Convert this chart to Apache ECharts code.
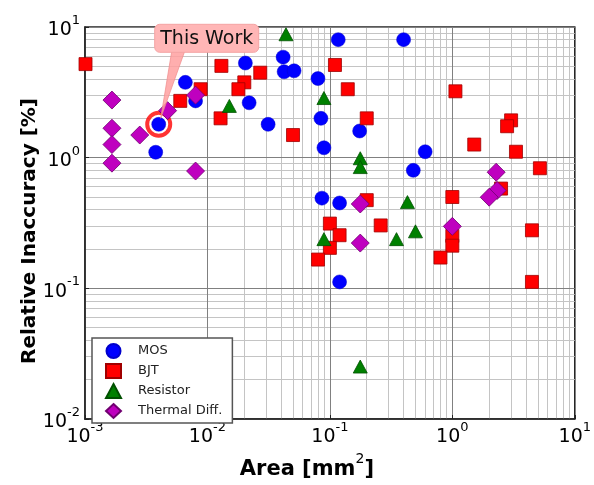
<!DOCTYPE html>
<html><head><meta charset="utf-8">
<script src="https://cdn.jsdelivr.net/npm/echarts@6/dist/echarts.min.js"></script>
<style>html,body{margin:0;padding:0;background:#fff}#c{width:594px;height:485px}</style>
</head><body><div id="c"></div>
<script>
// ---- data (area mm^2, relative inaccuracy %) ----
const mosData = [
  [0.0040, 1.80], [0.00378, 1.10], [0.0066, 3.77], [0.0080, 2.72],
  [0.0204, 5.30], [0.0219, 2.63], [0.0313, 1.80], [0.0415, 5.88],
  [0.0423, 4.54], [0.0510, 4.62], [0.0799, 4.03], [0.0845, 2.00],
  [0.0894, 1.19], [0.117, 8.0], [0.40, 8.0], [0.175, 1.60],
  [0.60, 1.11], [0.48, 0.80], [0.0861, 0.49], [0.12, 0.45], [0.12, 0.112]
];
const bjtData = [
  [0.00101, 5.2], [0.0060, 2.72], [0.0088, 3.34], [0.0130, 5.04],
  [0.0270, 4.47], [0.0200, 3.77], [0.0179, 3.34], [0.0128, 2.00],
  [0.050, 1.49], [0.110, 5.12], [0.140, 3.34], [0.20, 2.00],
  [1.06, 3.22], [0.20, 0.473], [0.10, 0.313], [0.12, 0.255],
  [0.10, 0.204], [0.080, 0.166], [0.26, 0.303], [1.0, 0.50],
  [1.0, 0.252], [1.0, 0.212], [0.80, 0.172], [3.02, 1.93],
  [2.80, 1.74], [1.51, 1.26], [3.31, 1.11], [5.19, 0.83],
  [2.50, 0.58], [4.47, 0.278], [4.47, 0.112]
];
const resistorData = [
  [0.0438, 8.8], [0.0151, 2.49], [0.0894, 2.86], [0.177, 0.99],
  [0.177, 0.847], [0.0894, 0.238], [0.43, 0.457], [0.35, 0.238],
  [0.50, 0.273], [0.177, 0.0252]
];
const thermalData = [
  [0.00166, 2.76], [0.00166, 1.68], [0.00166, 1.26], [0.00166, 0.908],
  [0.0028, 1.49], [0.00473, 2.29], [0.0080, 3.01], [0.0080, 0.79],
  [0.177, 0.442], [0.177, 0.222], [1.0, 0.298], [2.28, 0.774],
  [2.32, 0.561], [2.0, 0.498]
];
const thisWork = [[0.0040, 1.80]];
const calloutText = 'This Work';
const xMin = 0.001, xMax = 10, yMin = 0.01, yMax = 10;
const xMinorTicks = [];
for (let d = -3; d <= 0; d++) for (let k = 2; k <= 9; k++) xMinorTicks.push(+(k * Math.pow(10, d)).toPrecision(3));
const yMinorTicks = [];
for (let d = -2; d <= 0; d++) for (let k = 2; k <= 9; k++) yMinorTicks.push(+(k * Math.pow(10, d)).toPrecision(3));

const FONT = 'DejaVu Sans';
const chart = echarts.init(document.getElementById('c'), null, {renderer: 'canvas'});
const supFmt = v => '{b|10}{s|' + Math.round(Math.log10(v)) + '}';
const labelRich = {
  b: {fontSize: 19, fontFamily: FONT, color: '#000', verticalAlign: 'bottom', lineHeight: 26},
  s: {fontSize: 13, fontFamily: FONT, color: '#000', verticalAlign: 'top', lineHeight: 26, padding: [0, 0, 2, 0]}
};
const minorLines = [];
xMinorTicks.forEach(v => minorLines.push({xAxis: v}));
yMinorTicks.forEach(v => minorLines.push({yAxis: v}));

chart.setOption({
  animation: false,
  backgroundColor: '#fff',
  grid: {left: 85, top: 27, width: 492, height: 403, show: true, borderColor: '#222', borderWidth: 1.5, backgroundColor: 'transparent', z: 0},
  xAxis: {
    type: 'log', logBase: 10, min: xMin, max: xMax, z: 2,
    name: '{n|Area [mm}{t|2}{n|]}', nameLocation: 'middle', nameGap: 33, nameMoveOverlap: false,
    nameTextStyle: {padding: [0, 46, 0, 0], rich: {
      n: {fontSize: 21, fontWeight: 'bold', fontFamily: FONT, color: '#000', verticalAlign: 'bottom', lineHeight: 28},
      t: {fontSize: 14, fontFamily: FONT, color: '#000', verticalAlign: 'top', lineHeight: 28}
    }},
    axisLine: {show: true, lineStyle: {color: '#222', width: 1.5}},
    axisTick: {show: true, inside: true, length: 4, lineStyle: {color: '#222'}},
    axisLabel: {formatter: supFmt, rich: labelRich, margin: 2, showMinLabel: true, showMaxLabel: true},
    splitLine: {show: true, lineStyle: {color: '#808080', width: 1}}
  },
  yAxis: {
    type: 'log', logBase: 10, min: yMin, max: yMax, z: 2,
    name: 'Relative Inaccuracy [%]', nameLocation: 'middle', nameGap: 45, nameRotate: 90, nameMoveOverlap: false,
    nameTextStyle: {fontSize: 20, fontWeight: 'bold', fontFamily: FONT, color: '#000', padding: [0, 16, 0, 0]},
    axisLine: {show: true, lineStyle: {color: '#222', width: 1.5}},
    axisTick: {show: true, inside: true, length: 4, lineStyle: {color: '#222'}},
    axisLabel: {formatter: supFmt, rich: labelRich, margin: 5, showMinLabel: true, showMaxLabel: true},
    splitLine: {show: true, lineStyle: {color: '#808080', width: 1}}
  },
  legend: {
    left: 92, top: 338, orient: 'vertical', itemGap: 4, itemWidth: 15, itemHeight: 14, z: 30,
    padding: [5, 10, 4, 13], borderColor: '#555', borderWidth: 1.5, backgroundColor: '#fff',
    data: ['MOS', 'BJT', 'Resistor', 'Thermal Diff.'],
    textStyle: {fontSize: 13, fontFamily: FONT, color: '#222', padding: [0, 0, 0, 12], lineHeight: 16}
  },
  series: [
    {type: 'line', name: '_grid', data: [], silent: true, z: 1,
     markLine: {silent: true, z: 1, symbol: 'none', animation: false, label: {show: false},
       lineStyle: {color: '#c4c4c4', width: 1, type: 'solid'}, data: minorLines}},
    {type: 'scatter', name: 'This Work ring', data: thisWork, symbol: 'circle', symbolSize: 23, z: 10, clip: true,
     itemStyle: {color: '#fff', borderColor: '#ff0000', borderWidth: 4}},
    {type: 'scatter', name: 'MOS', data: mosData, symbol: 'circle', symbolSize: 14, z: 10, clip: true,
     itemStyle: {color: '#0000ff', borderColor: '#0000cc', borderWidth: 0.5, opacity: 1}},
    {type: 'scatter', name: 'BJT', data: bjtData, symbol: 'rect', symbolSize: 13, z: 10, clip: true,
     itemStyle: {color: '#ff0000', borderColor: '#a00000', borderWidth: 0.8, opacity: 1}},
    {type: 'scatter', name: 'Resistor', data: resistorData, symbol: 'triangle', symbolSize: [14, 13], z: 10, clip: true,
     itemStyle: {color: '#008000', borderColor: '#005000', borderWidth: 0.8, opacity: 1}},
    {type: 'scatter', name: 'Thermal Diff.', data: thermalData, symbol: 'diamond', symbolSize: 18, z: 10, clip: true,
     itemStyle: {color: '#bf00bf', borderColor: '#700070', borderWidth: 0.8, opacity: 1}}
  ]
});

// Callout anchored to the "This Work" point via the chart's own scales
const p = chart.convertToPixel({gridIndex: 0}, thisWork[0]);
const bx = p[0] - 4, by = p[1] - 100, bw = 104, bh = 28;
chart.setOption({
  graphic: [
    {type: 'polygon', z: 40, silent: true,
     shape: {points: [[p[0] + 13, by + bh - 1], [p[0] + 26, by + bh - 1], [p[0] + 2, p[1] - 6]]},
     style: {fill: 'rgba(255,160,160,0.85)', stroke: 'rgba(240,140,140,0.9)', lineWidth: 0.8}},
    {type: 'rect', z: 41, silent: true,
     shape: {x: bx, y: by, width: bw, height: bh, r: 5},
     style: {fill: '#ffb6b6', stroke: '#f4a3a3', lineWidth: 1}},
    {type: 'text', z: 42, silent: true,
     style: {x: bx + bw / 2, y: by + bh / 2 + 1, text: calloutText, fill: '#111', font: '19px "DejaVu Sans"', align: 'center', verticalAlign: 'middle'}}
  ]
});
</script></body></html>
